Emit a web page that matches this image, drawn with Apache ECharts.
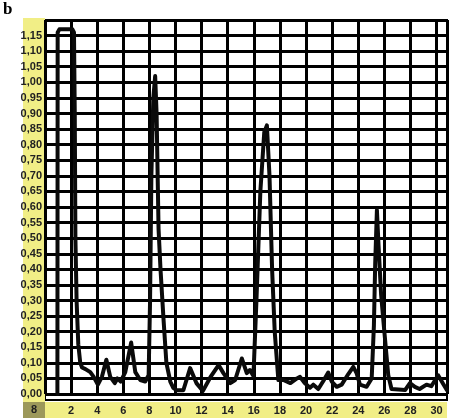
<!DOCTYPE html>
<html>
<head>
<meta charset="utf-8">
<script src="https://cdn.jsdelivr.net/npm/echarts@6/dist/echarts.min.js"></script>
<style>
  html, body { margin: 0; padding: 0; background: #fff; }
  #chart { width: 450px; height: 418px; }
</style>
</head>
<body>
<div id="chart"></div>
<script>
// time points (x) and signal (y)
var xValues = [
  0.95, 0.97, 1.1, 2.1, 2.22, 2.28, 2.33, 2.42, 2.55, 2.7, 2.84, 3.1, 3.47, 3.73, 4.05,
  4.36, 4.7, 5.0, 5.35, 5.55, 5.8, 6.15, 6.6, 6.92, 7.3, 7.68, 7.94, 8.05, 8.15, 8.3,
  8.44, 8.55, 8.7, 8.85, 9.08, 9.3, 9.6, 9.83, 10.1, 10.6, 11.12, 11.6, 12.1, 12.66, 13.3,
  13.67, 14.2, 14.57, 15.08, 15.46, 15.7, 15.97, 16.2, 16.5, 16.8, 17.0, 17.2, 17.4, 17.6, 17.88,
  18.26, 18.8, 19.3, 19.54, 19.9, 20.3, 20.56, 20.94, 21.3, 21.7, 21.97, 22.35, 22.73, 23.24, 23.62,
  23.88, 24.13, 24.64, 25.03, 25.2, 25.3, 25.43, 25.55, 25.75, 26.0, 26.3, 26.55, 27.6, 27.96, 28.34,
  28.7, 29.23, 29.6, 30.12, 30.5, 30.8
];
var yValues = [
  0.0, 1.16, 1.17, 1.17, 1.16, 0.9, 0.5, 0.3, 0.16, 0.1, 0.085, 0.08, 0.07, 0.055, 0.03,
  0.055, 0.11, 0.055, 0.035, 0.05, 0.04, 0.07, 0.165, 0.07, 0.045, 0.04, 0.06, 0.3, 0.7, 0.95,
  1.02, 0.9, 0.53, 0.4, 0.24, 0.1, 0.04, 0.02, 0.012, 0.012, 0.083, 0.035, 0.01, 0.053, 0.093,
  0.067, 0.035, 0.045, 0.114, 0.067, 0.077, 0.058, 0.3, 0.65, 0.84, 0.862, 0.7, 0.4, 0.2, 0.045,
  0.045, 0.035, 0.05, 0.055, 0.035, 0.02, 0.03, 0.016, 0.04, 0.069, 0.04, 0.023, 0.03, 0.064, 0.087,
  0.066, 0.03, 0.023, 0.05, 0.22, 0.42, 0.59, 0.48, 0.32, 0.2, 0.06, 0.016, 0.013, 0.035, 0.023,
  0.016, 0.03, 0.025, 0.06, 0.033, 0.012
];

var yellow = "#f1ee86";
var labelFont = "'Liberation Sans Narrow', 'Liberation Sans', sans-serif";

var myChart = echarts.init(document.getElementById("chart"));
var option = {
  animation: false,
  backgroundColor: "#fff",
  grid: {
    left: 45,
    right: 3,
    top: 20,
    bottom: 24
  },
  graphic: [
    // white plot field with its lower border a bit below zero
    { type: "rect", z: -1, shape: { x: 45, y: 20, width: 402, height: 380 },
      style: { fill: "#fff", stroke: "#000", lineWidth: 2 } },
    // yellow label strips
    { type: "rect", z: -1, shape: { x: 23, y: 18, width: 22, height: 400 },
      style: { fill: yellow } },
    { type: "rect", z: -1, shape: { x: 23, y: 402, width: 424, height: 16 },
      style: { fill: yellow } },
    { type: "rect", z: -1, shape: { x: 23, y: 402, width: 22, height: 16 },
      style: { fill: "#9c985a" } },
    { type: "text", z: 5, left: 31, top: 404,
      style: { text: "8", fill: "#222", font: "bold 11px " + labelFont } },
    { type: "text", z: 5, left: 3, top: 1,
      style: { text: "b", fill: "#000", font: "bold 17px 'Liberation Serif', serif" } }
  ],
  xAxis: {
    type: "value",
    min: 0,
    max: 30.8,
    interval: 2,
    axisLine: { show: false },
    axisTick: { show: false },
    splitLine: { show: true, lineStyle: { color: "#000", width: 3 } },
    axisLabel: {
      showMinLabel: false,
      showMaxLabel: false,
      margin: 11,
      color: "#222",
      fontSize: 11,
      fontWeight: "bold",
      fontFamily: labelFont,
      formatter: function (v) {
        return v % 2 === 0 ? String(v) : "";
      }
    }
  },
  yAxis: {
    type: "value",
    min: 0,
    max: 1.2,
    interval: 0.05,
    axisLine: { show: false },
    axisTick: { show: false },
    splitLine: { show: true, lineStyle: { color: "#000", width: 3 } },
    axisLabel: {
      showMaxLabel: false,
      margin: 3,
      color: "#222",
      fontSize: 11,
      fontWeight: "bold",
      fontFamily: labelFont,
      formatter: function (v) {
        return v.toFixed(2).replace(".", ",");
      }
    }
  },
  series: [
    {
      type: "line",
      symbol: "none",
      lineStyle: { color: "#0a0a0a", width: 4, join: "round", cap: "round" },
      data: xValues.map(function (x, i) { return [x, yValues[i]]; })
    }
  ]
};
myChart.setOption(option);
</script>
</body>
</html>
